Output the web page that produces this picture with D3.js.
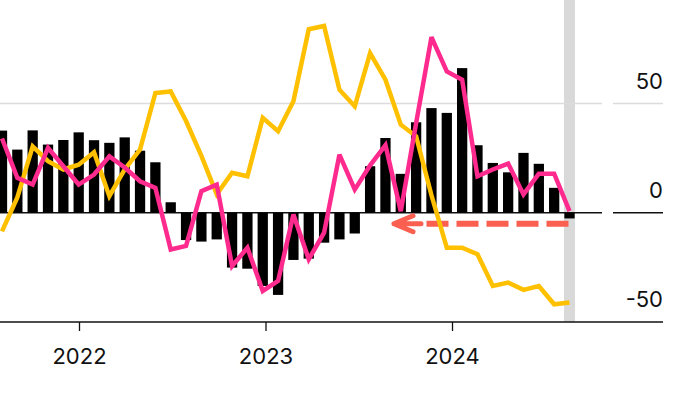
<!DOCTYPE html>
<html><head><meta charset="utf-8">
<script src="https://cdn.jsdelivr.net/npm/d3@7"></script>
<style>
body{margin:0;background:#fff}
svg{display:block}
text{font-family:Inter,"Liberation Sans",Arial,sans-serif;font-size:22px;fill:#111}
</style>
</head><body>
<svg id="c" width="700" height="394"></svg>
<script>
const months = ["2021-08","2021-09","2021-10","2021-11","2021-12",
  "2022-01","2022-02","2022-03","2022-04","2022-05","2022-06","2022-07","2022-08","2022-09","2022-10","2022-11","2022-12",
  "2023-01","2023-02","2023-03","2023-04","2023-05","2023-06","2023-07","2023-08","2023-09","2023-10","2023-11","2023-12",
  "2024-01","2024-02","2024-03","2024-04","2024-05","2024-06","2024-07","2024-08","2024-09"];
const barValues = [37.6,28.9,37.7,31.2,33.3,
  36.8,33.2,32,34.5,28.4,23.1,4.8,-12.5,-13.2,-12.2,-25.1,-25.6,
  -33.5,-37.6,-21.6,-21,-13.7,-12.2,-9.5,21.3,34.2,17.8,41.4,47.9,
  45.7,66.2,30.9,22.8,18.5,27.4,22.4,11.4,-2.6];
const pinkValues = [34,16,12.9,29.7,21.3,
  12.9,17.5,25.8,20.7,14.4,11.4,-16.8,-15.2,9.9,12.9,-24.4,-16,
  -35.8,-31.2,-0.8,-21.3,-9.1,26.6,10.6,21.7,30.9,0.7,41,80.4,
  64.7,60.9,16.7,19.8,22.5,8.4,17.9,17.9,0.7];
const yellowValues = [-8.5,7,30.4,23.6,19.8,
  22,27.7,7.6,19.8,28.9,54.8,55.5,42,26,8.4,18.3,16.7,
  43.4,37.3,51,84,85.5,56.3,48.7,73,60.9,40.3,35,8,
  -16,-16,-19,-33.5,-32,-35.3,-33.5,-41.9,-41.1];
const yTicks = [50, 0, -50];
const yearTicks = ["2022","2023","2024"];

const svg = d3.select("#c");
const x = d3.scalePoint().domain(months).range([2, 569.5]);
const xt = d3.scaleTime().domain([new Date(2022,0,1), new Date(2024,0,1)]).range([79, 452]);
const y = d3.scaleLinear().domain([-50, 50]).range([322, 103.5]);
const bw = x.step() * 0.67;
const last = months[months.length - 1];

// highlight band
svg.append("rect")
  .attr("x", x(last) - 5.5).attr("y", 0)
  .attr("width", 11).attr("height", y(-50))
  .attr("fill", "#d9d9d9");

// grid lines (plot part and label part)
const grid = yTicks.filter(v => v !== -50);
grid.forEach(v => {
  [[0, 602], [613, 663]].forEach(([a, b]) => {
    svg.append("line")
      .attr("x1", a).attr("x2", b)
      .attr("y1", y(v)).attr("y2", y(v))
      .attr("stroke", v === 0 ? "#111" : "#dcdcdc")
      .attr("stroke-width", v === 0 ? 1.5 : 1.3);
  });
});

// y labels
svg.append("g").selectAll("text").data(yTicks).join("text")
  .attr("x", 663).attr("y", d => y(d) - 15)
  .attr("text-anchor", "end")
  .text(d => d);

// bars
svg.append("g").selectAll("rect").data(months).join("rect")
  .attr("x", d => x(d) - bw / 2)
  .attr("y", (d, i) => y(Math.max(0, barValues[i])))
  .attr("width", bw)
  .attr("height", (d, i) => Math.abs(y(barValues[i]) - y(0)))
  .attr("fill", "#000");

// dashed arrow
const ay = y(0) + 11;
const arrowColor = "#fa5f50";
svg.append("line")
  .attr("x1", x(last) - 1).attr("x2", 420)
  .attr("y1", ay).attr("y2", ay)
  .attr("stroke", arrowColor).attr("stroke-width", 6)
  .attr("stroke-dasharray", "22,8");
svg.append("path")
  .attr("d", `M413,${ay - 8}L394,${ay}L413,${ay + 8}M394,${ay}H421`)
  .attr("fill", "none")
  .attr("stroke", arrowColor).attr("stroke-width", 5)
  .attr("stroke-linejoin", "round").attr("stroke-linecap", "round");

// lines
const lineGen = vals => d3.line().x((d, i) => x(months[i])).y(d => y(d))(vals);
svg.append("path").attr("d", lineGen(yellowValues))
  .attr("fill", "none").attr("stroke", "#ffc000").attr("stroke-width", 4.5)
  .attr("stroke-linejoin", "miter").attr("stroke-miterlimit", 3);
svg.append("path").attr("d", lineGen(pinkValues))
  .attr("fill", "none").attr("stroke", "#ff2a8e").attr("stroke-width", 4.5)
  .attr("stroke-linejoin", "miter").attr("stroke-miterlimit", 3);

// x axis
svg.append("line")
  .attr("x1", 0).attr("x2", 663)
  .attr("y1", y(-50)).attr("y2", y(-50))
  .attr("stroke", "#111").attr("stroke-width", 1.5);
const ax = svg.append("g").attr("transform", `translate(0,${y(-50)})`)
  .call(d3.axisBottom(xt)
    .tickValues(yearTicks.map(t => new Date(+t, 0, 1)))
    .tickFormat(d3.timeFormat("%Y"))
    .tickSize(9));
ax.select(".domain").remove();
ax.selectAll(".tick line").attr("stroke", "#111").attr("stroke-width", 1.3);
ax.selectAll("text").attr("y", 42).attr("dy", null)
  .attr("font-size", null).attr("font-family", null).attr("fill", "#111");
</script>
</body></html>
